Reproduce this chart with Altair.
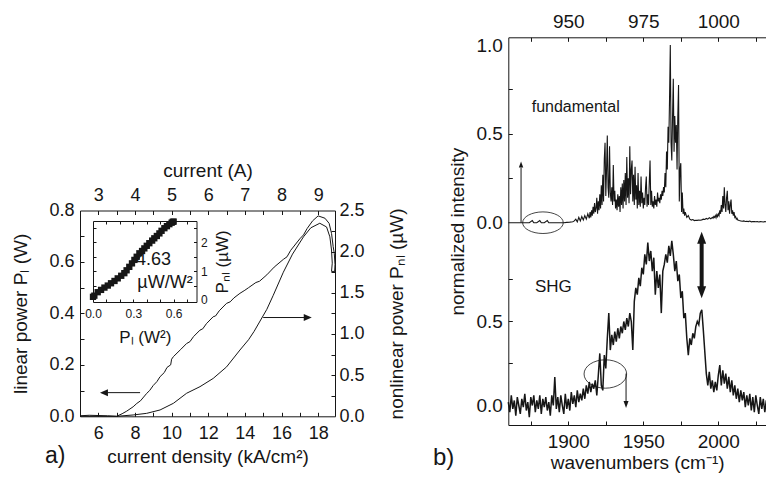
import altair as alt
import pandas as pd

W, H = 758, 465
FONT = "Liberation Sans"
INK = "#161616"

# ---------------- data ----------------
# panel a) linear power P_L (W) vs current density J (kA/cm^2)
J_PL = [5.0, 5.5, 6.0, 6.5, 7.0, 7.3, 7.55, 7.9, 8.1, 8.3,
        8.64, 8.8, 9.0, 9.2, 9.37, 9.6, 9.75, 9.95, 10.0, 10.1,
        10.5, 10.82, 11.0, 11.2, 11.55, 11.7, 11.9, 12.27, 12.4, 12.6,
        13.0, 13.2, 13.4, 13.73, 14.0, 14.2, 14.6, 14.8, 15.2, 15.4,
        15.6, 16.1, 16.3, 16.5, 17.0, 17.2, 17.4, 17.7, 18.0, 18.37,
        18.6, 18.73, 18.82, 18.88, 18.92, 18.9]
P_L = [0.002, 0.004, 0.003, 0.002, 0.0, 0.01, 0.02, 0.037, 0.05, 0.06,
       0.089, 0.1, 0.12, 0.135, 0.154, 0.17, 0.19, 0.2, 0.222, 0.232,
       0.26, 0.283, 0.29, 0.31, 0.335, 0.34, 0.36, 0.387, 0.39, 0.41,
       0.439, 0.445, 0.46, 0.478, 0.49, 0.5, 0.52, 0.525, 0.55, 0.565,
       0.58, 0.61, 0.62, 0.645, 0.69, 0.705, 0.73, 0.76, 0.779, 0.77,
       0.75, 0.711, 0.66, 0.634, 0.59, 0.562]
# panel a) nonlinear power P_NL (uW)
J_PNL = [5.0, 6.0, 7.0, 7.9, 8.64, 9.37, 10.1, 10.82, 11.55, 12.27,
         13.0, 13.73, 14.2, 14.5, 15.2, 15.55, 16.1, 16.6, 17.2, 17.6,
         18.09, 18.46, 18.64, 18.73, 18.77, 18.73, 18.91]
P_NL = [0.0, 0.0, 0.0, 0.016, 0.036, 0.077, 0.158, 0.28, 0.36, 0.46,
        0.6, 0.805, 0.93, 1.03, 1.3, 1.47, 1.75, 1.97, 2.18, 2.29,
        2.345, 2.3, 2.18, 2.02, 1.86, 1.76, 1.76]
# panel a) inset: P_NL vs P_L^2
INSET_PL2 = [0.0, 0.01, 0.035, 0.06, 0.085, 0.11, 0.134, 0.16, 0.184, 0.21,
             0.233, 0.25, 0.27, 0.29, 0.308, 0.325, 0.345, 0.365, 0.382, 0.4,
             0.419, 0.44, 0.456, 0.475, 0.494, 0.51, 0.531, 0.55, 0.568, 0.585,
             0.593, 0.6]
INSET_PNL = [0.11, 0.15, 0.27, 0.35, 0.43, 0.5, 0.58, 0.66, 0.75, 0.84,
             0.93, 1.03, 1.15, 1.27, 1.39, 1.5, 1.62, 1.7, 1.79, 1.88,
             1.97, 2.06, 2.14, 2.22, 2.31, 2.4, 2.49, 2.56, 2.63, 2.68,
             2.71, 2.72]

# panel b) fundamental spectrum (normalized), in segments
FUND_A_WN = [1860, 1862, 1864, 1866, 1868, 1870, 1872, 1874, 1876, 1877,
             1879, 1881, 1882, 1884, 1886, 1887, 1889, 1891, 1893, 1895,
             1897, 1899, 1901, 1903]
FUND_A = [0, 0, 0, 0, 0, 0, 0, 0, 0.012, 0,
          0, 0.012, 0, 0, 0.012, 0, 0, 0, 0, 0,
          0, 0.002, 0.003, 0.005]
FUND_B = [0.01, 0.02, 0.005, 0.03, 0.01, 0.035, 0.015, 0.04, 0.02, 0.05, 0.025]  # 1904..1914, step 1
FUND_C = [0.06, 0.03, 0.07, 0.04, 0.09, 0.05, 0.11, 0.06, 0.08, 0.14,     # 1914.5.., step 0.5
          0.05, 0.12, 0.07, 0.16, 0.08, 0.21, 0.10, 0.27, 0.12, 0.36,
          0.45, 0.15, 0.30, 0.49, 0.20, 0.14, 0.43, 0.17, 0.12, 0.20,
          0.10, 0.325, 0.12, 0.18, 0.08, 0.13, 0.07, 0.16, 0.09, 0.15,
          0.06, 0.20, 0.10, 0.22, 0.08, 0.24, 0.12, 0.28, 0.10, 0.37,
          0.14, 0.25, 0.11, 0.43, 0.16, 0.30, 0.35, 0.12, 0.27, 0.10,
          0.315, 0.13, 0.21, 0.08, 0.28, 0.10, 0.18, 0.09, 0.26, 0.11,
          0.17, 0.08, 0.14, 0.10, 0.20, 0.26, 0.09, 0.16, 0.10, 0.23,
          0.35, 0.10, 0.18, 0.09, 0.12, 0.08, 0.15, 0.10, 0.13, 0.09,
          0.17, 0.12, 0.14, 0.11, 0.16, 0.13, 0.18, 0.15, 0.20, 0.17,
          0.28, 0.20, 0.40, 0.30, 0.54, 0.45, 0.70, 1.00, 0.45, 0.35,
          0.60, 0.81, 0.40, 0.60, 0.45, 0.55, 0.30, 0.60, 0.775, 0.12,
          0.30, 0.335, 0.06, 0.17, 0.05, 0.08, 0.04, 0.06]
FUND_D = [0.03, 0.04, 0.02, 0.015, 0.018, 0.012, 0.014, 0.013, 0.015, 0.014,  # 1979.., step 1
          0.016, 0.02, 0.018, 0.024, 0.02, 0.028, 0.022, 0.03]
FUND_E = [0.025, 0.035, 0.03, 0.04, 0.028, 0.045, 0.035, 0.05, 0.04, 0.07,  # 1996.5.., step 0.5
          0.05, 0.1, 0.06, 0.15, 0.08, 0.2, 0.1, 0.06, 0.14, 0.18,
          0.07, 0.12, 0.05, 0.1, 0.13, 0.05, 0.07, 0.04, 0.06, 0.03,
          0.035, 0.02, 0.025, 0.015]
FUND_F = [0.012, 0.01, 0.008, 0.01, 0.007, 0.008, 0.006, 0.009, 0.005, 0.007,  # 2014.., step 1
          0.006, 0.005, 0.007, 0.004, 0.006, 0.005, 0.004, 0.006, 0.005, 0.004,
          0.005, 0.004, 0.005, 0.004]
# panel b) SHG spectrum (normalized), 1860..2037 step 1
SHG = [0.02, -0.04, 0.06, -0.02, 0.03, -0.06, 0.05, 0.00, -0.05, 0.04,
       -0.01, 0.07, -0.03, 0.02, -0.07, 0.05, 0.00, 0.06, -0.04, 0.03,
       -0.02, 0.06, -0.05, 0.04, -0.01, 0.05, -0.03, 0.02, -0.06, 0.06,
       0.00, 0.17, -0.02, 0.05, -0.04, 0.06, 0.00, -0.05, 0.07, -0.02,
       0.04, -0.03, 0.08, 0.01, 0.06, -0.01, 0.09, 0.02, 0.07, 0.03,
       0.10, 0.04, 0.12, 0.07, 0.14, 0.08, 0.13, 0.10, 0.15, 0.06,
       0.18, 0.31, 0.12, 0.09, 0.30, 0.22, 0.40, 0.55, 0.33, 0.42,
       0.36, 0.44, 0.38, 0.46, 0.40, 0.47, 0.43, 0.50, 0.45, 0.52,
       0.47, 0.55, 0.50, 0.33, 0.62, 0.70, 0.66, 0.76, 0.71, 0.82,
       0.78, 0.90, 0.84, 0.97, 0.86, 0.92, 0.80, 0.88, 0.66, 0.80,
       0.70, 0.78, 0.55, 0.80, 0.84, 0.90, 0.85, 0.95, 0.89, 0.98,
       0.90, 0.80, 0.86, 0.74, 0.78, 0.64, 0.68, 0.52, 0.55, 0.40,
       0.30, 0.40, 0.36, 0.43, 0.40, 0.47, 0.50, 0.48, 0.55, 0.57,
       0.45, 0.32, 0.19, 0.12, 0.20, 0.10, 0.15, 0.08, 0.14, 0.09,
       0.18, 0.24, 0.12, 0.21, 0.13, 0.19, 0.10, 0.17, 0.08, 0.15,
       0.06, 0.12, 0.04, 0.10, 0.02, 0.09, 0.03, 0.08, -0.01, 0.06,
       0.00, 0.07, -0.03, 0.05, -0.04, 0.06, 0.00, -0.05, 0.05, -0.02,
       0.04, -0.04, 0.03, -0.01, 0.05, -0.03, 0.02, -0.02]

# tick labels
A_BOTTOM = [6, 8, 10, 12, 14, 16, 18]
A_LEFT = [0.0, 0.2, 0.4, 0.6, 0.8]
A_RIGHT = [0.0, 0.5, 1.0, 1.5, 2.0, 2.5]
IN_X = [0.0, 0.3, 0.6]
IN_Y = [0, 1, 2]
B_X = [1900, 1950, 2000]
B_FUND = [0.0, 0.5, 1.0]
B_SHG = [0.0, 0.5]

# ---------------- layout (pixels inside the view) ----------------
AL, AR, AT, AB = 72, 327, 202.5, 408.3           # panel a) frame
IL, IR, IT, IB = 85, 188.5, 213, 294             # inset frame
BL, BR, BT, BB = 500.3, 758, 29.3, 417           # panel b) frame

XJ = ([5, 18.92], [AL, AR])
YPL = ([0, 0.8], [AB, AT])
YNL = ([0, 2.5], [AB, AT])
XI = ([0, 0.77], [IL, IR])
YI = ([-0.07, 2.74], [IB, IT])
XW = ([1860, 1860 + (BR - BL) / 1.5], [BL, BR])
YS = ([-0.1161, 2.1917], [BB, BT])
YF = ([0, 1], [214.7, 37])


def grid(start, step, n):
    return [start + step * k for k in range(n)]


fund_wn = (FUND_A_WN + grid(1904, 1, len(FUND_B)) + grid(1914.5, 0.5, len(FUND_C))
           + grid(1979, 1, len(FUND_D)) + grid(1996.5, 0.5, len(FUND_E))
           + grid(2014, 1, len(FUND_F)))
fund_val = FUND_A + FUND_B + FUND_C + FUND_D + FUND_E + FUND_F

df_pl = pd.DataFrame({"J": J_PL, "P": P_L, "i": range(len(J_PL))})
df_nl = pd.DataFrame({"J": J_PNL, "P": P_NL, "i": range(len(J_PNL))})
df_in = pd.DataFrame({"x": INSET_PL2, "y": INSET_PNL})
df_f = pd.DataFrame({"w": fund_wn, "v": fund_val})
df_s = pd.DataFrame({"w": grid(1860, 1, len(SHG)), "v": SHG})


def sc(d):
    return alt.Scale(domain=d[0], range=d[1], nice=False, zero=False)


def off(orient, pos):
    return {"bottom": pos - H, "top": -pos, "left": -pos, "right": pos - W}[orient]


def ax(**kw):
    base = dict(grid=False, labelFont=FONT, titleFont=FONT, labelColor=INK, titleColor=INK,
                domainColor=INK, tickColor=INK, titleFontWeight="normal",
                labelFlush=False, labelOverlap=False, domainWidth=1, tickWidth=1)
    base.update(kw)
    return alt.Axis(**base)


def lab_axis(orient, pos, values, fs, title, tfs=19, **kw):
    return ax(orient=orient, offset=off(orient, pos), values=values, ticks=False, tickSize=0,
              labelFontSize=fs, title=title, titleFontSize=tfs, **kw)


def tick_axis(orient, pos, values, size=4):
    inward = {"bottom": -size, "top": size, "left": size, "right": -size}[orient]
    return ax(orient=orient, offset=off(orient, pos + inward), values=values, ticks=True,
              tickSize=size, domain=False, labels=False, title=None)


def dom_axis(orient, pos):
    return ax(orient=orient, offset=off(orient, pos), ticks=False, tickSize=0, labels=False,
              title=None, domain=True)


def ghost(df, xf, yf, xs, ys, xaxis, yaxis):
    return alt.Chart(df).mark_point(opacity=0).encode(
        x=alt.X(xf, type="quantitative", scale=sc(xs), axis=xaxis),
        y=alt.Y(yf, type="quantitative", scale=sc(ys), axis=yaxis))


def pts(xs, ys, x, y, shape, size=4, filled=True, sw=1.0):
    df = pd.DataFrame({"x": x, "y": y})
    return alt.Chart(df).mark_point(shape=shape, size=size, filled=filled, opacity=1,
                                    color=INK, strokeWidth=sw).encode(
        x=alt.X("x:Q", scale=sc(xs), axis=None), y=alt.Y("y:Q", scale=sc(ys), axis=None))


def hrule(xs, ys, x0, x1, y, sw=1.0):
    df = pd.DataFrame({"x0": [x0], "x1": [x1], "y": [y]})
    return alt.Chart(df).mark_rule(color=INK, strokeWidth=sw).encode(
        x=alt.X("x0:Q", scale=sc(xs), axis=None), x2="x1:Q",
        y=alt.Y("y:Q", scale=sc(ys), axis=None))


def vrule(xs, ys, x, y0, y1, sw=1.0):
    df = pd.DataFrame({"x": [x], "y0": [y0], "y1": [y1]})
    return alt.Chart(df).mark_rule(color=INK, strokeWidth=sw).encode(
        x=alt.X("x:Q", scale=sc(xs), axis=None),
        y=alt.Y("y0:Q", scale=sc(ys), axis=None), y2="y1:Q")


def label(xs, ys, x, y, text, fs, align="left"):
    df = pd.DataFrame({"x": [x], "y": [y], "t": [text]})
    return alt.Chart(df).mark_text(align=align, baseline="middle", font=FONT, fontSize=fs,
                                   color=INK).encode(
        x=alt.X("x:Q", scale=sc(xs), axis=None), y=alt.Y("y:Q", scale=sc(ys), axis=None),
        text="t:N")


def ellipse(rx, ry):
    k = 0.5523
    return (f"M{-rx},0 C{-rx},{-k*ry} {-k*rx},{-ry} 0,{-ry} "
            f"C{k*rx},{-ry} {rx},{-k*ry} {rx},0 "
            f"C{rx},{k*ry} {k*rx},{ry} 0,{ry} "
            f"C{-k*rx},{ry} {-rx},{k*ry} {-rx},0 Z")


HEAD_LEFT = "M0,0 L8,-3.5 L8,3.5 Z"
HEAD_RIGHT = "M0,0 L-8,-3.5 L-8,3.5 Z"
HEAD_UP_S = "M0,0 L-2.2,6 L2.2,6 Z"
HEAD_DOWN_S = "M0,0 L-2.5,-7 L2.5,-7 Z"
HEAD_UP_B = "M0,0 L-4.5,12 L4.5,12 Z"
HEAD_DOWN_B = "M0,0 L-4.5,-12 L4.5,-12 Z"

layers = []

# ---------------- panel a) ----------------
layers.append(alt.Chart(df_pl).mark_line(color=INK, strokeWidth=1).encode(
    x=alt.X("J:Q", scale=sc(XJ), axis=lab_axis("bottom", AB, A_BOTTOM, 18, "current density (kA/cm²)",
                                               format="d", labelPadding=8, titlePadding=5)),
    y=alt.Y("P:Q", scale=sc(YPL), axis=lab_axis("left", AL, A_LEFT, 18, "linear power Pₗ (W)",
                                               format=".1f", labelPadding=6, titlePadding=18)),
    order="i:Q"))
layers.append(alt.Chart(df_nl).mark_line(color=INK, strokeWidth=1).encode(
    x=alt.X("J:Q", scale=sc(XJ), axis=lab_axis("top", AT, A_BOTTOM, 18, "current (A)",
                                               labelExpr="format(datum.value/2,'d')",
                                               labelPadding=6, titlePadding=6)),
    y=alt.Y("P:Q", scale=sc(YNL), axis=lab_axis("right", AR, A_RIGHT, 18, "nonlinear power Pₙₗ (µW)",
                                               format=".1f", labelPadding=4, titlePadding=42,
                                               titleAngle=270)),
    order="i:Q"))
layers.append(ghost(df_pl, "J", "P", XJ, YPL,
                    tick_axis("bottom", AB, [5, 6, 7, 8, 9, 10, 11, 12, 13, 14, 15, 16, 17, 18]),
                    tick_axis("left", AL, [0.1, 0.2, 0.3, 0.4, 0.5, 0.6, 0.7])))
layers.append(ghost(df_nl, "J", "P", XJ, YNL,
                    tick_axis("top", AT, [5, 6, 7, 8, 9, 10, 11, 12, 13, 14, 15, 16, 17, 18]),
                    tick_axis("right", AR, [0.25, 0.5, 0.75, 1.0, 1.25, 1.5, 1.75, 2.0, 2.25])))
layers.append(hrule(XJ, YPL, 6.5, 8.28, 0.092))
layers.append(pts(XJ, YPL, [6.09], [0.092], HEAD_LEFT))
layers.append(hrule(XJ, YNL, 15.0, 17.3, 1.2))
layers.append(pts(XJ, YNL, [17.65], [1.2], HEAD_RIGHT))
layers.append(label(XJ, YPL, 3.09, -0.155, "a)", 23))

# inset
layers.append(alt.Chart(df_in).mark_square(size=40, color=INK, opacity=1).encode(
    x=alt.X("x:Q", scale=sc(XI), axis=lab_axis("bottom", IB, IN_X, 12, "Pₗ (W²)", tfs=17,
                                               format=".1f", labelPadding=6, titlePadding=10)),
    y=alt.Y("y:Q", scale=sc(YI), axis=lab_axis("right", IR, IN_Y, 12, "Pₙₗ (µW)", tfs=17,
                                               format="d", labelPadding=4, titlePadding=24,
                                               titleAngle=270))))
layers.append(ghost(df_in, "x", "y", XI, YI, dom_axis("top", IT), dom_axis("left", IL)))
layers.append(ghost(df_in, "x", "y", XI, YI,
                    tick_axis("bottom", IB, [0.1, 0.2, 0.3, 0.4, 0.5, 0.6, 0.7], 3),
                    tick_axis("left", IL, [0.5, 1.0, 1.5, 2.0, 2.5], 3)))
layers.append(ghost(df_in, "x", "y", XI, YI,
                    tick_axis("top", IT, [0.1, 0.2, 0.3, 0.4, 0.5, 0.6, 0.7], 3),
                    tick_axis("right", IR, [0.5, 1.0, 1.5, 2.0, 2.5], 3)))
layers.append(label(XI, YI, 0.32, 1.39, "4.63", 18))
layers.append(label(XI, YI, 0.33, 0.58, "µW/W²", 18))

# ---------------- panel b) ----------------
layers.append(alt.Chart(df_f).mark_line(color=INK, strokeWidth=1.1).encode(
    x=alt.X("w:Q", scale=sc(XW), axis=lab_axis("bottom", BB, B_X, 19, "wavenumbers (cm⁻¹)",
                                               format="d", labelPadding=7, titlePadding=2)),
    y=alt.Y("v:Q", scale=sc(YF), axis=lab_axis("left", BL, B_FUND, 19, None, format=".1f",
                                               labelPadding=6, domain=False))))
layers.append(alt.Chart(df_s).mark_line(color=INK, strokeWidth=1.5).encode(
    x=alt.X("w:Q", scale=sc(XW), axis=lab_axis("top", BT, B_X, 19, None,
                                               labelExpr="format(datum.value/2,'d')",
                                               labelPadding=6)),
    y=alt.Y("v:Q", scale=sc(YS), axis=lab_axis("left", BL, B_SHG, 19, "normalized intensity",
                                               format=".1f", labelPadding=6, titlePadding=8))))
layers.append(ghost(df_f, "w", "v", XW, YF,
                    tick_axis("bottom", BB, [1875, 1900, 1925, 1950, 1975, 2000, 2025]),
                    tick_axis("left", BL, [0.25, 0.5, 0.75])))
layers.append(ghost(df_s, "w", "v", XW, YS,
                    tick_axis("top", BT, [1875, 1900, 1925, 1950, 1975, 2000, 2025]),
                    tick_axis("left", BL, [0.25, 0.5, 0.75])))
# annotations
layers.append(vrule(XW, YF, 1868.5, 0.0, 0.31))
layers.append(pts(XW, YF, [1868.5], [0.345], HEAD_UP_S))
layers.append(pts(XW, YF, [1883.1], [0.0], ellipse(20.3, 10.8), filled=False, sw=0.8))
layers.append(pts(XW, YS, [1924.7], [0.1875], ellipse(21.3, 14.2), filled=False, sw=0.8))
layers.append(vrule(XW, YS, 1938.5, 0.19, 0.02))
layers.append(pts(XW, YS, [1938.5], [-0.015], HEAD_DOWN_S))
layers.append(vrule(XW, YS, 1988.9, 0.69, 0.98, sw=4))
layers.append(pts(XW, YS, [1988.9], [1.0345], HEAD_UP_B))
layers.append(pts(XW, YS, [1988.9], [0.638], HEAD_DOWN_B))
layers.append(label(XW, YF, 1875.6, 0.653, "fundamental", 16))
layers.append(label(XW, YS, 1877.8, 0.707, "SHG", 17))
layers.append(label(XW, YS, 1809.8, -0.31, "b)", 24))

chart = alt.layer(*layers).resolve_scale(x="independent", y="independent").properties(
    width=W, height=H, padding=0,
    autosize=alt.AutoSizeParams(type="none"),
    background="white",
).configure_view(strokeOpacity=0)

chart.save("out.html", embed_options={"renderer": "svg", "actions": False})
